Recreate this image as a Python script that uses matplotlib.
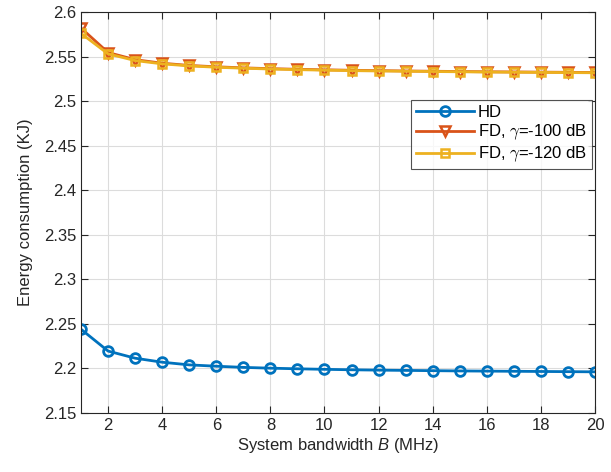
import matplotlib
matplotlib.use("Agg")
import matplotlib.pyplot as plt
import numpy as np

plt.rcParams['font.family'] = ['Liberation Sans', 'DejaVu Sans']
plt.rcParams['mathtext.fontset'] = 'custom'
plt.rcParams['mathtext.it'] = 'Liberation Sans:italic'

bandwidth = list(range(1, 21))
hd = [2.244, 2.2195, 2.2115, 2.207, 2.204, 2.2025, 2.2012, 2.2003, 2.1996, 2.199,
      2.1985, 2.1981, 2.1978, 2.1975, 2.1972, 2.197, 2.1968, 2.1966, 2.1964, 2.1962]
fd_100 = [2.582, 2.5545, 2.5465, 2.5425, 2.5400, 2.5385, 2.5373, 2.5364, 2.5357, 2.5351,
          2.5346, 2.5342, 2.5338, 2.5335, 2.5332, 2.5329, 2.5327, 2.5325, 2.5323, 2.5321]
fd_120 = [2.576, 2.5530, 2.5455, 2.5418, 2.5395, 2.5380, 2.5369, 2.5360, 2.5353, 2.5347,
          2.5342, 2.5338, 2.5335, 2.5332, 2.5329, 2.5326, 2.5324, 2.5322, 2.5320, 2.5318]
labels = ['HD', r'FD, $\gamma$=-100 dB', r'FD, $\gamma$=-120 dB']
colors = ['#0072BD', '#D95319', '#EDB120']

fig = plt.figure(figsize=(6.11, 4.72), dpi=100)
ax = fig.add_axes([0.1326, 0.125, 0.8412, 0.8496])

ax.plot(bandwidth, hd, color=colors[0], lw=2, marker='o', ms=7, mfc='none', mew=2, label=labels[0])
ax.plot(bandwidth, fd_100, color=colors[1], lw=2, marker='v', ms=7, mfc='none', mew=1.8, label=labels[1])
ax.plot(bandwidth, fd_120, color=colors[2], lw=2, marker='s', ms=6, mfc='none', mew=1.8, label=labels[2])

ax.set_xlim(1, 20)
ax.set_ylim(2.15, 2.6)
ax.set_xticks(range(2, 21, 2))
ax.set_yticks(np.arange(2.15, 2.601, 0.05))
ax.set_yticklabels(['2.15', '2.2', '2.25', '2.3', '2.35', '2.4', '2.45', '2.5', '2.55', '2.6'])
ax.grid(True, color='#dcdcdc', lw=0.8)
ax.set_axisbelow(True)
ax.tick_params(direction='in', top=True, right=True, labelsize=12, length=5, width=0.8, colors='#262626')
for s in ax.spines.values():
    s.set_color('#262626')
    s.set_linewidth(0.8)
ax.set_xlabel('System bandwidth $B$ (MHz)', fontsize=12, color='#262626', labelpad=2)
ax.set_ylabel('Energy consumption (KJ)', fontsize=12, color='#262626', labelpad=8)

leg = ax.legend(loc='upper right', bbox_to_anchor=(0.994, 0.78), fontsize=12, frameon=True,
                fancybox=False, edgecolor='#262626', borderpad=0.3, handlelength=3.5,
                handletextpad=0.2, labelspacing=0.15, borderaxespad=0)
leg.get_frame().set_linewidth(0.8)
for t in leg.get_texts():
    t.set_math_fontfamily('cm')

fig.savefig('out.png', dpi=100)
